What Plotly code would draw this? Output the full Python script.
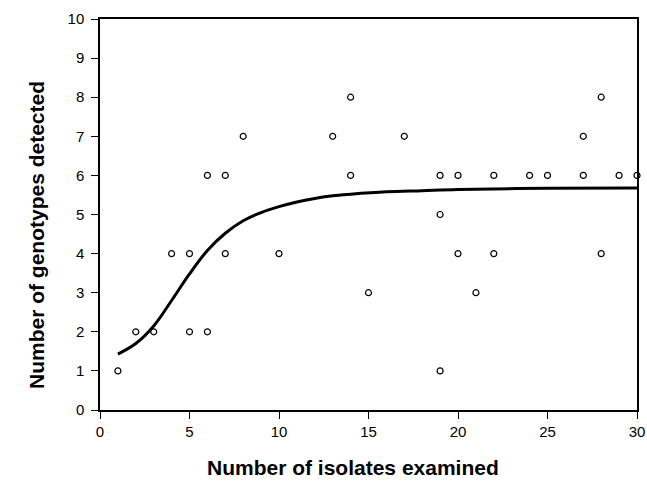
import plotly.graph_objects as go

# Observed data points (isolates examined, genotypes detected)
obs_x = [1, 2, 3, 4, 5, 5, 6, 6, 7, 7, 8, 10, 13, 14, 14, 15, 17,
         19, 19, 19, 20, 20, 21, 22, 22, 24, 25, 27, 27, 28, 28, 29, 30]
obs_y = [1, 2, 2, 4, 4, 2, 6, 2, 6, 4, 7, 4, 7, 8, 6, 3, 7,
         6, 5, 1, 6, 4, 3, 6, 4, 6, 6, 7, 6, 8, 4, 6, 6]

# Fitted curve
curve_x = [1, 2, 3, 4, 5, 6, 7, 8, 9, 10, 11, 12, 13, 14, 16, 18, 20, 25, 30]
curve_y = [1.43, 1.70, 2.15, 2.80, 3.48, 4.08, 4.52, 4.84, 5.05, 5.20,
           5.32, 5.41, 5.48, 5.52, 5.58, 5.61, 5.64, 5.67, 5.68]

x_ticks = [0, 5, 10, 15, 20, 25, 30]
y_ticks = [0, 1, 2, 3, 4, 5, 6, 7, 8, 9, 10]

x_title = "Number of isolates examined"
y_title = "Number of genotypes detected"

FONT = "Liberation Sans, Arial, sans-serif"

fig = go.Figure()
fig.add_trace(go.Scatter(
    x=curve_x, y=curve_y, mode="lines",
    line=dict(color="black", width=3, shape="spline", smoothing=1.0),
    hoverinfo="skip", showlegend=False, cliponaxis=False))
fig.add_trace(go.Scatter(
    x=obs_x, y=obs_y, mode="markers",
    marker=dict(symbol="circle-open", size=6, color="black", line=dict(width=1.2)),
    showlegend=False, cliponaxis=False))

fig.update_layout(
    width=647, height=489,
    margin=dict(l=100, r=10, t=19, b=79),
    paper_bgcolor="white", plot_bgcolor="white",
    font=dict(family=FONT, color="black"),
    xaxis=dict(
        range=[0, 30], tickvals=x_ticks, ticktext=[str(v) for v in x_ticks],
        automargin=False,
        showgrid=False, zeroline=False, showline=True, linecolor="black", linewidth=1.5,
        mirror=True, ticks="outside", ticklen=7, tickwidth=1.2, tickcolor="black",
        tickfont=dict(size=15, family=FONT),
    ),
    yaxis=dict(
        range=[0, 10], tickvals=y_ticks, ticktext=[str(v) for v in y_ticks],
        automargin=False,
        showgrid=False, zeroline=False, showline=True, linecolor="black", linewidth=1.5,
        mirror=True, ticks="outside", ticklen=7, tickwidth=1.2, tickcolor="black",
        tickfont=dict(size=15, family=FONT), ticklabelstandoff=4,
    ),
    annotations=[
        dict(text="<b>" + x_title + "</b>", xref="paper", yref="paper",
             x=0.471, y=-0.146, xanchor="center", yanchor="middle",
             showarrow=False, font=dict(size=21, family=FONT)),
        dict(text="<b>" + y_title + "</b>", xref="paper", yref="paper",
             x=-0.117, y=0.448, xanchor="center", yanchor="middle", textangle=-90,
             showarrow=False, font=dict(size=21, family=FONT)),
    ],
)

fig.write_html("out.html")
